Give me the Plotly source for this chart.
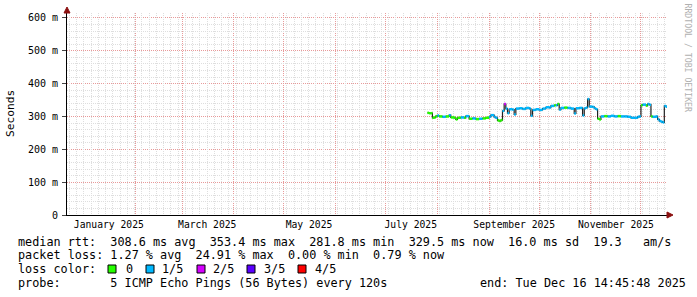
import plotly.graph_objects as go
from datetime import datetime

# ---------------- data ----------------
dates = [
    "2025-07-26", "2025-07-27", "2025-07-28", "2025-07-29", "2025-07-30", "2025-07-31",
    "2025-08-01", "2025-08-02", "2025-08-04", "2025-08-06", "2025-08-08", "2025-08-09",
    "2025-08-11", "2025-08-12", "2025-08-13", "2025-08-15", "2025-08-17", "2025-08-18",
    "2025-08-20", "2025-08-22", "2025-08-24", "2025-08-26", "2025-08-28", "2025-08-30",
    "2025-09-01", "2025-09-02", "2025-09-04", "2025-09-05", "2025-09-06", "2025-09-07",
    "2025-09-08", "2025-09-09", "2025-09-10", "2025-09-11", "2025-09-12", "2025-09-13",
    "2025-09-15", "2025-09-16", "2025-09-17", "2025-09-19", "2025-09-21", "2025-09-23",
    "2025-09-25", "2025-09-26", "2025-09-27", "2025-09-29", "2025-10-01", "2025-10-03",
    "2025-10-05", "2025-10-07", "2025-10-08", "2025-10-10", "2025-10-11", "2025-10-12",
    "2025-10-13", "2025-10-14", "2025-10-16", "2025-10-18", "2025-10-20", "2025-10-22",
    "2025-10-23", "2025-10-25", "2025-10-27", "2025-10-28", "2025-10-29", "2025-10-30",
    "2025-10-31", "2025-11-02", "2025-11-03", "2025-11-04", "2025-11-05", "2025-11-06",
    "2025-11-07", "2025-11-09", "2025-11-11", "2025-11-13", "2025-11-15", "2025-11-17",
    "2025-11-19", "2025-11-21", "2025-11-23", "2025-11-25", "2025-11-27", "2025-11-29",
    "2025-11-30", "2025-12-01", "2025-12-02", "2025-12-04", "2025-12-05", "2025-12-06",
    "2025-12-07", "2025-12-08", "2025-12-10", "2025-12-11", "2025-12-12", "2025-12-13",
    "2025-12-14", "2025-12-15", "2025-12-16",
]
rtt_ms = [
    311, 310, 310, 296, 297, 301,
    303, 300, 299, 300, 304, 297,
    296, 291, 296, 297, 296, 301,
    293, 294, 292, 293, 294, 296,
    299, 304, 298, 296, 288, 286,
    289, 317, 338, 324, 310, 322,
    321, 306, 324, 325, 323, 326,
    324, 302, 320, 322, 320, 324,
    328, 327, 332, 334, 334, 338,
    321, 326, 327, 326, 324, 309,
    325, 326, 303, 325, 327, 353,
    330, 329, 325, 322, 293, 291,
    300, 301, 300, 302, 300, 301,
    300, 300, 299, 296, 296, 299,
    300, 334, 336, 333, 338, 336,
    300, 299, 300, 291, 286, 284,
    282, 332, 329.5,
]
loss_class = [
    0, 0, 0, 0, 0, 0,
    1, 0, 1, 0, 1, 0,
    0, 0, 0, 1, 0, 1,
    0, 1, 0, 1, 0, 0,
    1, 1, 1, 1, 0, 0,
    0, 1, 2, 1, 1, 1,
    1, 1, 1, 1, 1, 1,
    1, 1, 1, 1, 1, 1,
    1, 1, 1, 0, 1, 0,
    1, 1, 0, 1, 1, 1,
    1, 1, 1, 1, 1, 1,
    1, 1, 1, 1, 0, 0,
    1, 0, 1, 1, 1, 0,
    1, 1, 1, 1, 1, 1,
    1, 0, 1, 0, 1, 1,
    0, 1, 1, 1, 1, 1,
    1, 1, 1,
]
end_time = "2025-12-16 14:45:48"
range_start = "2024-12-21 22:30:00"

loss_colors = ["#26ff00", "#00b8ff", "#d400ff", "#5a00ff", "#ff0000"]
loss_labels = ["0", "1/5", "2/5", "3/5", "4/5"]

y_tickvals = [0, 100, 200, 300, 400, 500, 600]
y_ticktext = ["0", "100 m", "200 m", "300 m", "400 m", "500 m", "600 m"]
y_minor_vals = [v for v in range(0, 620, 20) if v % 100 != 0]
x_label_dates = ["2025-01-16", "2025-03-16", "2025-05-16", "2025-07-16", "2025-09-16", "2025-11-16"]
x_label_text = ["January 2025", "March 2025", "May 2025", "July 2025", "September 2025", "November 2025"]

legend_rows = [
    "median rtt:  308.6 ms avg  353.4 ms max  281.8 ms min  329.5 ms now  16.0 ms sd  19.3   am/s",
    "packet loss: 1.27 % avg  24.91 % max  0.00 % min  0.79 % now",
    "loss color:",
    "probe:       5 ICMP Echo Pings (56 Bytes) every 120s",
]
end_text = "end: Tue Dec 16 14:45:48 2025"

# ---------------- geometry helpers ----------------
W, H = 697, 297
L, R, T, B = 67, 30, 13, 82
PW, PH = W - L - R, H - T - B


def px(x):
    return (x - L) / PW


def py(y):
    return (T + PH - y) / PH


def nb(s):
    return s.replace(" ", "\u00a0")


MONO = "DejaVu Sans Mono"
RED_GRID = "#e89a9a"
GRAY_GRID = "#dedede"
DASH = "1px,1px"

# ---------------- traces ----------------
t = [datetime.fromisoformat(d) for d in dates] + [datetime.fromisoformat(end_time)]

fig = go.Figure()
# dummy traces so the grid-only overlay axes get drawn
fig.add_trace(go.Scatter(x=[end_time], y=[None], xaxis="x3", yaxis="y2",
                         mode="lines", hoverinfo="skip", showlegend=False))
fig.add_trace(go.Scatter(x=[end_time], y=[None], xaxis="x2", yaxis="y",
                         mode="lines", hoverinfo="skip", showlegend=False))
# dark smoke / transitions
fig.add_trace(go.Scatter(
    x=t, y=rtt_ms + [rtt_ms[-1]], mode="lines",
    line=dict(color="#202020", width=1.2, shape="hv"),
    hoverinfo="skip", showlegend=False,
))
for c in range(5):
    xs, ys = [], []
    for i, v in enumerate(rtt_ms):
        if loss_class[i] == c:
            xs += [t[i], t[i + 1], None]
            ys += [v, v, None]
    if xs:
        fig.add_trace(go.Scatter(
            x=xs, y=ys, mode="lines",
            line=dict(color=loss_colors[c], width=2.5),
            hoverinfo="skip", showlegend=False,
        ))

xrange = [range_start, end_time]
DAY_MS = 24 * 3600 * 1000

fig.update_layout(
    width=W, height=H,
    margin=dict(l=L, r=R, t=T, b=B, pad=0),
    paper_bgcolor="white", plot_bgcolor="white",
    font=dict(family=MONO, color="black"),
    showlegend=False,
    xaxis=dict(
        type="date", range=xrange, showgrid=False, zeroline=False,
        tickvals=x_label_dates, ticktext=x_label_text,
        tickfont=dict(family=MONO, size=9.7, color="black"),
        ticks="", showline=True, linecolor="black", linewidth=1,
        fixedrange=True,
    ),
    xaxis2=dict(
        type="date", range=xrange, overlaying="x", anchor="y",
        showticklabels=False, ticks="", showline=False, zeroline=False,
        tick0="2025-01-01", dtick="M1",
        showgrid=True, gridcolor=RED_GRID, griddash=DASH, gridwidth=1,
        fixedrange=True,
    ),
    xaxis3=dict(
        type="date", range=xrange, overlaying="x", anchor="y2",
        showticklabels=False, ticks="", showline=False, zeroline=False,
        tick0="2025-01-01", dtick=4.35 * DAY_MS,
        showgrid=True, gridcolor=GRAY_GRID, griddash=DASH, gridwidth=1,
        fixedrange=True,
    ),
    yaxis=dict(
        range=[0, 615], tickvals=y_tickvals, ticktext=y_ticktext,
        tickfont=dict(family=MONO, size=10, color="black"),
        ticks="outside", ticklen=4, tickcolor="#444", ticklabelstandoff=2,
        showline=True, linecolor="black", linewidth=1, zeroline=False,
        showgrid=True, gridcolor=RED_GRID, griddash=DASH,
        fixedrange=True,
    ),
    yaxis2=dict(
        range=[0, 615], overlaying="y", anchor="x3", tickvals=y_minor_vals,
        showticklabels=False, ticks="", showline=False, zeroline=False,
        showgrid=True, gridcolor=GRAY_GRID, griddash=DASH,
        fixedrange=True,
    ),
)

annotations = []
# y axis title
annotations.append(dict(
    x=px(10), y=py(114), xref="paper", yref="paper", text="Seconds",
    textangle=-90, showarrow=False, font=dict(family=MONO, size=11.2, color="black"),
    xanchor="center", yanchor="middle",
))
# watermark
annotations.append(dict(
    x=px(687.5), y=py(58), xref="paper", yref="paper", text=nb("RRDTOOL / TOBI OETIKER"),
    textangle=90, showarrow=False, font=dict(family=MONO, size=8.2, color="#b0b0b0"),
    xanchor="center", yanchor="middle",
))
row_y = [241.7, 255.3, 269.3, 282.7]
for txt, yy in zip(legend_rows, row_y):
    annotations.append(dict(
        x=px(16), y=py(yy), xref="paper", yref="paper", text=nb(txt),
        showarrow=False, font=dict(family=MONO, size=11.8, color="black"),
        xanchor="left", yanchor="middle",
    ))
annotations.append(dict(
    x=px(478), y=py(row_y[3]), xref="paper", yref="paper", text=nb(end_text),
    showarrow=False, font=dict(family=MONO, size=11.8, color="black"),
    xanchor="left", yanchor="middle",
))

shapes = []
box_x = [108, 146, 197, 247, 298]
lab_x = [124, 160, 211, 262, 313]
for bx, lx, col, lab in zip(box_x, lab_x, loss_colors, loss_labels):
    shapes.append(dict(
        type="rect", xref="paper", yref="paper",
        x0=px(bx), x1=px(bx + 8), y0=py(273), y1=py(265),
        fillcolor=col, line=dict(color="black", width=1),
    ))
    annotations.append(dict(
        x=px(lx), y=py(row_y[2]), xref="paper", yref="paper", text=lab,
        showarrow=False, font=dict(family=MONO, size=11.8, color="black"),
        xanchor="left", yanchor="middle",
    ))

# axis arrows
ARROW = "#8b1010"
shapes.append(dict(
    type="path", xref="paper", yref="paper",
    path=f"M {px(667)} {py(212)} L {px(673)} {py(215)} L {px(667)} {py(218)} Z",
    fillcolor=ARROW, line=dict(color=ARROW, width=1),
))
shapes.append(dict(
    type="path", xref="paper", yref="paper",
    path=f"M {px(64)} {py(13)} L {px(67)} {py(7)} L {px(70)} {py(13)} Z",
    fillcolor=ARROW, line=dict(color=ARROW, width=1),
))

fig.update_layout(annotations=annotations, shapes=shapes)

fig.write_html("out.html", config={"displayModeBar": False})
